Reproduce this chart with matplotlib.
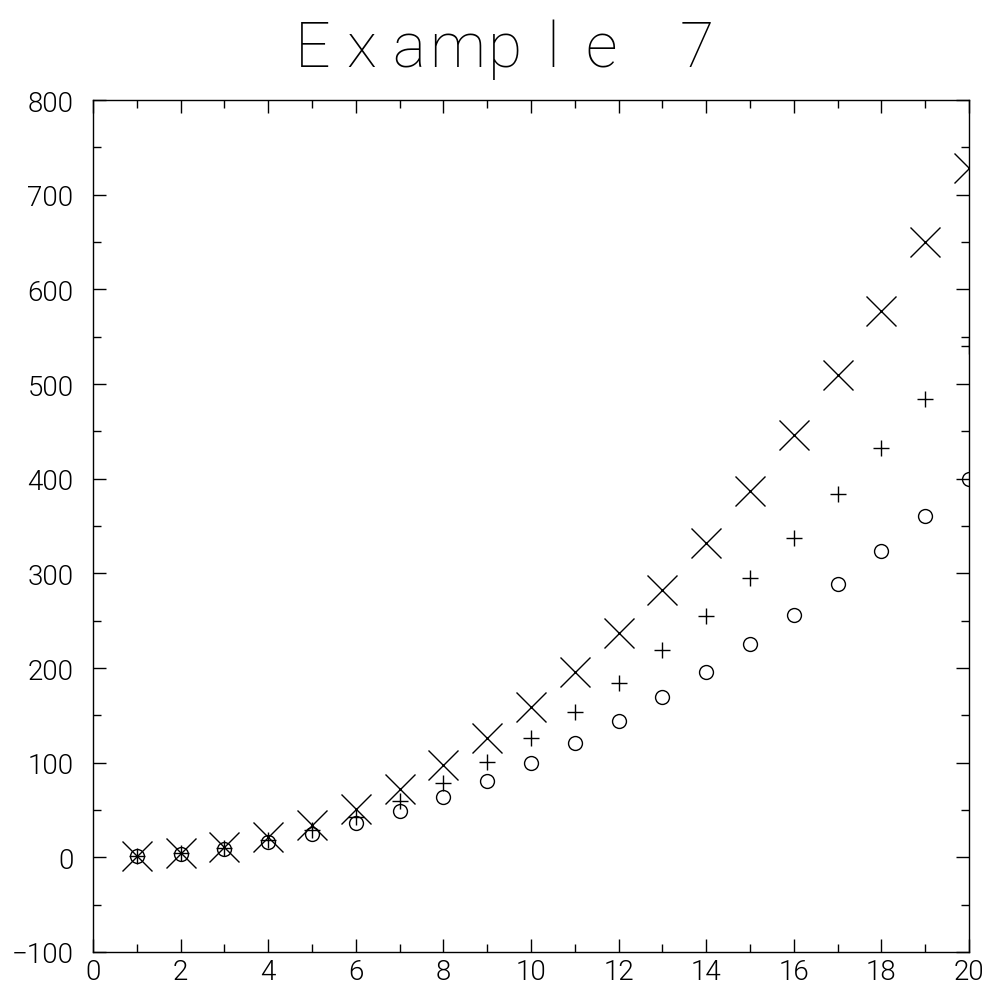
import numpy as np
from matplotlib import pyplot as plt
from matplotlib.ticker import MultipleLocator

x = list(range(1, 21))
circles = [1, 4, 9, 16, 25, 36, 49, 64, 81, 100,
           121, 144, 169, 196, 225, 256, 289, 324, 361, 400]
pluses = [1, 4.29, 10.04, 18.38, 29.36, 43.06, 59.52, 78.79, 100.9, 125.9,
          153.8, 184.6, 218.5, 255.3, 295.0, 337.8, 383.6, 432.5, 484.4, 539.7]
crosses = [1, 4.59, 11.21, 21.11, 34.49, 51.52, 72.31, 97.01, 125.7, 158.5,
           195.5, 236.7, 282.4, 332.4, 386.7, 445.7, 509.3, 577.3, 649.9, 728.2]
title = "Example 7"

plt.rcParams['font.family'] = ['Roboto', 'DejaVu Sans']

fig = plt.figure(figsize=(9.85, 9.95), dpi=100)
ax = fig.add_axes([93 / 985, 1 - 953 / 995, 876 / 985, 852 / 995])

ax.plot(x, circles, 'o', ms=10, mfc='none', mec='k', mew=1.0)
ax.plot(x, pluses, '+', ms=11, mec='k', mew=1.0)
ax.plot(x, crosses, 'x', ms=21, mec='k', mew=1.0)

ax.set_xlim(0, 20)
ax.set_ylim(-100, 800)
ax.xaxis.set_major_locator(MultipleLocator(2))
ax.xaxis.set_minor_locator(MultipleLocator(1))
ax.yaxis.set_major_locator(MultipleLocator(100))
ax.yaxis.set_minor_locator(MultipleLocator(50))
ax.tick_params(which='both', direction='in', top=True, right=True, width=1.0,
               colors='k', labelsize=20)
ax.tick_params(which='major', length=9.5)
ax.tick_params(which='minor', length=6)
ax.tick_params(axis='x', which='major', pad=4)
ax.tick_params(axis='y', which='major', pad=14)
for lab in ax.get_xticklabels() + ax.get_yticklabels():
    lab.set_fontweight(300)
for s in ax.spines.values():
    s.set_linewidth(1.0)

# title drawn as evenly pitched letters, like the stroke font of the original
for i, ch in enumerate(title):
    fig.text((313 + 48 * i) / 985, 1 - 67 / 995, ch, ha='center', va='baseline',
             fontsize=45, fontweight=100)

fig.savefig('out.png', dpi=100)
